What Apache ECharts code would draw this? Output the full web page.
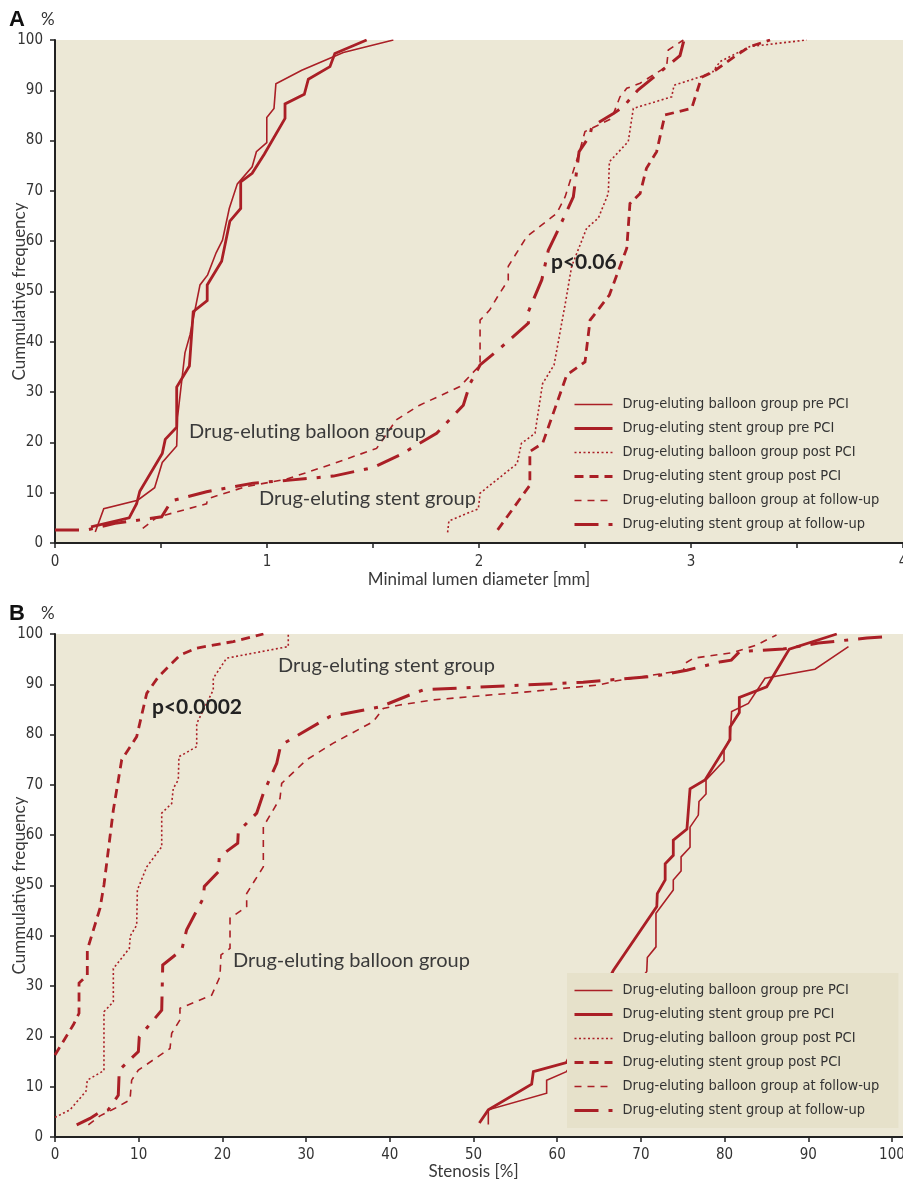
<!DOCTYPE html>
<html><head><meta charset="utf-8">
<script src="https://cdn.jsdelivr.net/npm/echarts@6/dist/echarts.min.js"></script>
<style>html,body{margin:0;padding:0;background:#fff}#c{width:903px;height:1180px}</style>
</head><body><div id="c"></div>
<script>
// ---- data ----
const seriesNames = [
  'Drug-eluting balloon group pre PCI',
  'Drug-eluting stent group pre PCI',
  'Drug-eluting balloon group post PCI',
  'Drug-eluting stent group post PCI',
  'Drug-eluting balloon group at follow-up',
  'Drug-eluting stent group at follow-up'
];
const xTicksA = [0, 1, 2, 3, 4];
const xTicksB = [0, 10, 20, 30, 40, 50, 60, 70, 80, 90, 100];
const yTicks = [0, 10, 20, 30, 40, 50, 60, 70, 80, 90, 100];

// Panel A: minimal lumen diameter [mm] vs cumulative frequency [%]
const aDebPre = [[0.19,2.2],[0.23,6.8],[0.39,8.5],[0.47,11],[0.506,16],[0.574,19.3],[0.578,25],[0.613,37.8],[0.637,41.4],[0.684,51.3],[0.72,53.3],[0.76,57.7],[0.79,60.2],[0.822,66.5],[0.86,71.4],[0.93,74.8],[0.95,77.8],[0.999,79.6],[0.999,84.6],[1.033,86.4],[1.042,91.3],[1.164,94],[1.36,97.5],[1.596,100]];
const aDesPre = [[0.17,3.2],[0.35,5.0],[0.385,7.8],[0.40,10.3],[0.506,17.8],[0.52,20.6],[0.574,23],[0.574,31],[0.634,35.2],[0.652,46],[0.718,48.2],[0.718,51.3],[0.786,56],[0.825,64],[0.876,66.5],[0.876,71.8],[0.93,73.5],[0.987,77.3],[1.085,84.4],[1.085,87.3],[1.176,89.2],[1.195,92.2],[1.297,94.7],[1.32,97.3],[1.47,100]];
const aDebPost = [[1.852,2.1],[1.858,4.4],[1.997,6.8],[2.005,9.9],[2.18,15.8],[2.20,19.8],[2.264,21.8],[2.30,31.7],[2.354,35.4],[2.41,48.3],[2.437,55],[2.508,62.6],[2.563,64.6],[2.61,69.5],[2.615,75.8],[2.704,79.8],[2.728,86.4],[2.909,88.7],[2.92,91],[3.098,93.4],[3.137,95.7],[3.278,98.7],[3.546,100]];
const aDesPost = [[2.088,2.6],[2.24,11.5],[2.24,18.2],[2.30,19.8],[2.414,33.4],[2.50,36],[2.524,44.3],[2.615,49.3],[2.697,58.6],[2.712,67.5],[2.76,69.5],[2.79,74.5],[2.838,77.8],[2.877,85.1],[3.003,86.4],[3.05,92.6],[3.105,93.7],[3.215,97],[3.278,98.7],[3.373,100]];
const aDebFu = [[0.414,2.9],[0.48,5.1],[0.715,7.8],[0.72,8.8],[0.9,11.2],[1.093,12.7],[1.3,15.6],[1.517,18.8],[1.61,24.5],[1.72,27.4],[1.91,31.1],[2.005,35.4],[2.005,44.3],[2.05,46.3],[2.088,49],[2.138,52.3],[2.138,55],[2.225,60.9],[2.366,65.5],[2.406,68.8],[2.476,78.1],[2.50,81.8],[2.626,84.4],[2.665,88.7],[2.697,90.4],[2.76,91.4],[2.885,94.7],[2.893,98],[2.964,100]];
const aDesFu = [[0,2.6],[0.15,2.6],[0.283,3.9],[0.503,5.2],[0.55,8.4],[0.715,10.2],[0.935,11.9],[1.108,12.5],[1.313,13.3],[1.50,15],[1.627,17.5],[1.80,21.8],[1.926,27.4],[1.958,31.7],[2.005,35.4],[2.099,38.7],[2.233,43.7],[2.233,46],[2.296,52.3],[2.327,58.2],[2.366,61.6],[2.445,68.8],[2.472,77.8],[2.524,81.1],[2.532,82.8],[2.634,85.4],[2.68,86.7],[2.751,90.1],[2.885,94.7],[2.948,96.9],[2.967,100]];

// Panel B: stenosis [%] vs cumulative frequency [%]
const bDebPre = [[51.77,2.5],[51.77,5.4],[58.74,8.7],[58.74,11.3],[61.1,13],[70.7,32.9],[70.77,35.7],[71.8,37.8],[71.8,44.5],[73.87,49.1],[73.87,51.1],[74.8,52.9],[74.8,55.7],[75.87,57.6],[75.87,61.6],[76.86,64],[76.94,66.7],[77.78,68.2],[77.78,71],[79.93,74.8],[79.93,76.9],[80.65,79.3],[80.84,84.6],[82.84,86.2],[84.83,91.2],[90.8,93],[94.8,97.5]];
const bDesPre = [[50.7,2.8],[51.77,5.4],[56.95,10.5],[57.15,13],[61.1,14.8],[66.7,33.1],[71.9,45.8],[71.96,48.4],[72.9,51.1],[72.9,54.3],[73.87,56],[73.87,59],[75.5,61.2],[75.87,69.2],[77.66,71],[80.65,79],[80.65,81.5],[81.76,84.4],[81.76,87.4],[85.03,89.5],[87.73,97],[93.4,100]];
const bDebPost = [[0,3.9],[1.79,5.4],[3.7,9.1],[3.86,11.3],[5.85,13.2],[5.85,24.9],[6.97,26.9],[6.97,33.5],[8.88,37.5],[9.0,40],[9.76,42.1],[9.84,49.1],[10.96,53.7],[12.75,57.7],[12.75,64.4],[13.94,66.3],[14.13,69.3],[14.73,71],[14.81,75.6],[16.93,77.6],[16.93,82.2],[18.91,88.9],[18.91,91.2],[20.51,95.2],[27.87,97.5],[27.87,100]];
const bDesPost = [[0,16.3],[2.19,22.3],[2.87,24.6],[2.87,30.6],[3.86,32.2],[3.86,37.2],[5.38,45.5],[5.85,50.1],[6.97,65],[7.97,75],[9.76,79.6],[10.96,88.2],[12.35,91.5],[14.93,95.8],[16.93,97.2],[21.3,98.5],[24.9,100]];
const bDebFu = [[3.98,2.4],[5.38,4.2],[7.17,5.7],[8.96,7.4],[9.16,11.3],[9.96,13.3],[13.74,17.6],[13.94,20.6],[14.93,23.3],[14.93,25.6],[18.72,28.2],[19.71,31.9],[19.83,36.2],[20.91,37.5],[20.91,43.5],[22.9,45.8],[22.9,48.4],[23.9,51.1],[24.89,53.7],[24.89,61.7],[26.88,67.3],[27.08,70.3],[30.07,75],[33.25,78.3],[38.03,82.6],[39.22,85.2],[41.2,85.9],[45.2,86.9],[56.4,88.5],[65.1,89.9],[67.1,90.7],[75.1,92.8],[75.3,94.2],[76.3,95.2],[81,96.3],[83.8,97.8],[86.2,99.8]];
const bDesFu = [[2.59,2.4],[4.18,3.7],[5.38,5.0],[6.37,5.4],[7.56,8.3],[7.68,13.3],[9.96,17],[10.07,19.9],[12.75,25.2],[12.87,34.2],[15.14,37.2],[15.73,41.2],[17.72,47.5],[17.84,49.8],[19.51,52.7],[19.63,55.7],[21.83,58.4],[21.9,60.7],[24.1,64.4],[24.89,68.3],[26.49,74.3],[26.97,77.9],[32.86,83.6],[38.83,85.5],[42.41,87.9],[44,88.9],[50,89.4],[63.1,90.4],[71.5,91.6],[75.5,92.8],[79.6,94.5],[80.8,94.8],[81.8,96.5],[87,97],[91.2,98.2],[97,99.2],[99.8,99.5]];

// ---- styles ----
const RED = '#AA1F26';
const BG = '#ECE8D6';
const NARROW = "'Liberation Sans Narrow','DejaVu Sans Condensed',sans-serif";
const SANS = "Lato,'Open Sans',sans-serif";
const ZW = '\u200C';
const lineStyles = [
  {width: 1.6, type: 'solid'},
  {width: 2.8, type: 'solid'},
  {width: 1.6, type: [2, 2.5]},
  {width: 2.8, type: [9, 6]},
  {width: 1.6, type: [7, 6]},
  {width: 3, type: [24, 10, 4, 10]}
];
const panelA = [aDebPre, aDesPre, aDebPost, aDesPost, aDebFu, aDesFu];
const panelB = [bDebPre, bDesPre, bDebPost, bDesPost, bDebFu, bDesFu];

const series = [];
[panelA, panelB].forEach((panel, p) => {
  panel.forEach((d, i) => {
    series.push({
      type: 'line', name: seriesNames[i], data: d,
      xAxisIndex: p, yAxisIndex: p,
      symbol: 'none', showSymbol: false, silent: true, animation: false,
      lineStyle: Object.assign({color: RED, cap: 'butt', join: 'miter'}, lineStyles[i]),
      itemStyle: {color: RED}, z: 2
    });
  });
});

function yAxis(gi) {
  return {
    type: 'value', gridIndex: gi, min: 0, max: 100, interval: 10,
    name: 'Cummulative frequency', nameLocation: 'middle', nameRotate: 90, nameGap: 27,
    nameMoveOverlap: false,
    nameTextStyle: {fontFamily: SANS, fontSize: 17, color: '#3a3a3a'},
    axisLine: {show: true, onZero: false, lineStyle: {color: '#222', width: 2}},
    axisTick: {show: true, inside: false, length: 5, lineStyle: {color: '#222', width: 1.5}},
    axisLabel: {show: true, margin: 12, fontFamily: NARROW, fontSize: 15, color: '#333',
      formatter: v => yTicks.includes(v) ? String(v) : ''},
    splitLine: {show: false}
  };
}

function legend(top, bg) {
  return {
    data: seriesNames.map((n, i) => ({
      name: n,
      lineStyle: Object.assign({color: RED, cap: 'butt'}, lineStyles[i]),
      itemStyle: {opacity: 0, color: 'transparent', borderColor: 'transparent', borderWidth: 0}
    })),
    orient: 'vertical', left: 567, top: top,
    itemWidth: 38, itemHeight: 14, itemGap: 9,
    padding: [10, 19, 10, 6],
    backgroundColor: bg, borderWidth: 0,
    selectedMode: false,
    textStyle: {fontFamily: NARROW, fontSize: 14.5, color: '#333', lineHeight: 14, padding: [0, 0, 0, 5]}
  };
}

function txt(text, x, y, font, fill) {
  return {type: 'text', silent: true, z: 10,
    style: {text: text, x: x, y: y, font: font, fill: fill || '#3a3a3a', textAlign: 'left', textVerticalAlign: 'middle'}};
}

const option = {
  backgroundColor: '#fff',
  animation: false,
  grid: [
    {left: 55, right: 0, top: 40, height: 503, show: true, backgroundColor: BG, borderWidth: 0, outerBoundsMode: 'none', containLabel: false},
    {left: 55, right: 11, top: 634, height: 503, show: true, backgroundColor: BG, borderWidth: 0, outerBoundsMode: 'none', containLabel: false}
  ],
  xAxis: [
    {type: 'value', gridIndex: 0, min: 0, max: 4, interval: 0.5,
      name: 'Minimal lumen diameter [mm]', nameLocation: 'middle', nameGap: 28, nameMoveOverlap: false,
      nameTextStyle: {fontFamily: SANS, fontSize: 17, color: '#3a3a3a'},
      axisLine: {show: true, onZero: false, lineStyle: {color: '#222', width: 2}},
      axisTick: {show: true, length: 5, lineStyle: {color: '#222', width: 1.5}},
      axisLabel: {margin: 12, fontFamily: NARROW, fontSize: 15, color: '#333',
        showMaxLabel: true, formatter: v => xTicksA.includes(v) ? String(v) : ''},
      splitLine: {show: false}},
    {type: 'value', gridIndex: 1, min: 0, max: 100, interval: 10,
      name: 'Stenosis [%]', nameLocation: 'middle', nameGap: 26, nameMoveOverlap: false,
      nameTextStyle: {fontFamily: SANS, fontSize: 17, color: '#3a3a3a'},
      axisLine: {show: true, onZero: false, lineStyle: {color: '#222', width: 2}},
      axisTick: {show: true, length: 5, lineStyle: {color: '#222', width: 1.5}},
      axisLabel: {margin: 11, fontFamily: NARROW, fontSize: 15, color: '#333',
        formatter: v => xTicksB.includes(v) ? String(v) : ''},
      splitLine: {show: false}}
  ],
  yAxis: [yAxis(0), yAxis(1)],
  legend: [legend(387, 'transparent'), legend(973, '#E6E1CA')],
  series: series,
  graphic: [
    {type: 'rect', silent: true, z: -1, shape: {x: 892, y: 634, width: 11, height: 503}, style: {fill: BG}},
    {type: 'line', silent: true, z: 1, shape: {x1: 891, y1: 1137, x2: 903, y2: 1137}, style: {stroke: '#222', lineWidth: 2}},
    txt('A', 9, 20, "bold 22px 'Liberation Sans'", '#111'),
    txt('%', 41, 20, "17px Lato", '#333'),
    txt('B', 9, 614, "bold 22px 'Liberation Sans'", '#111'),
    txt('%', 41, 614, "17px Lato", '#333'),
    txt('Drug-elut' + ZW + 'ing balloon group', 189, 432, "20px Lato"),
    txt('Drug-elut' + ZW + 'ing stent group', 259, 499, "20px Lato"),
    txt('p<0.06', 551, 262, "bold 21px Lato", '#222'),
    txt('Drug-elut' + ZW + 'ing stent group', 278, 666, "20px Lato"),
    txt('Drug-elut' + ZW + 'ing balloon group', 233, 961, "20px Lato"),
    txt('p<0.0002', 152, 707, "bold 21px Lato", '#222')
  ]
};

const chart = echarts.init(document.getElementById('c'), null, {renderer: 'canvas'});
chart.setOption(option);
</script>
</body></html>
